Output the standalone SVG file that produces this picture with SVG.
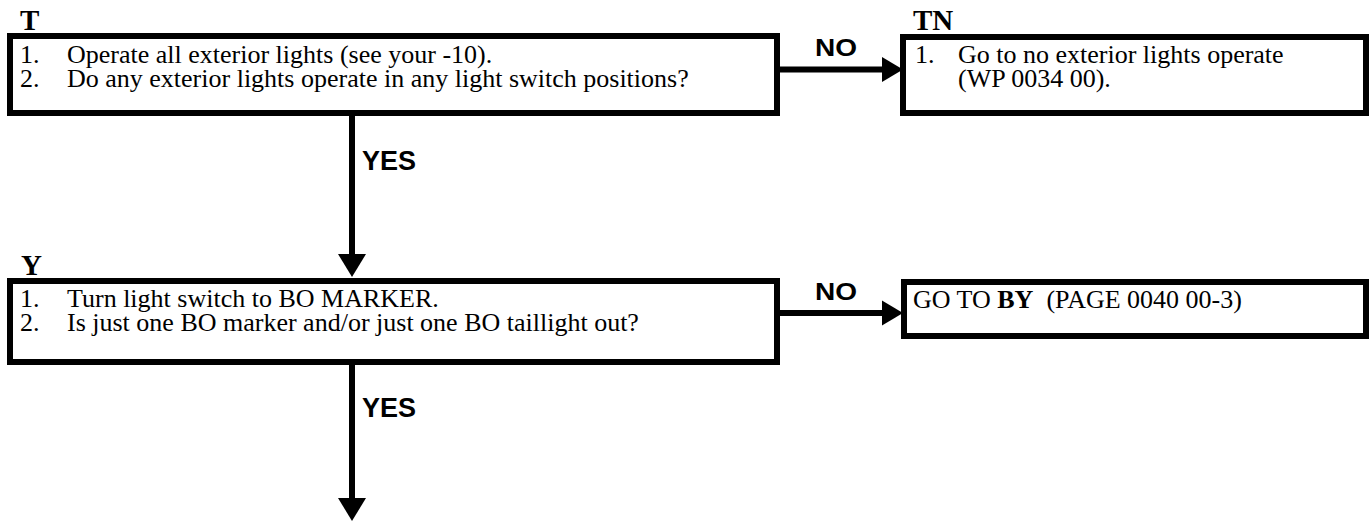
<svg xmlns="http://www.w3.org/2000/svg" width="1372" height="521" viewBox="0 0 1372 521">
<style>
.box{fill:#fff;stroke:#000;stroke-width:6}
.lbl{font-family:"Liberation Serif",serif;font-weight:bold;font-size:29px;fill:#000}
.txt{font-family:"Liberation Serif",serif;font-size:26px;fill:#000}
.yn{font-family:"Liberation Sans",sans-serif;font-weight:bold;fill:#000}
.ln{stroke:#000;stroke-width:6;fill:none}
.hd{fill:#000}
</style>
<rect width="1372" height="521" fill="#fff"/>
<g id="node-T">
<text class="lbl" x="20" y="30">T</text>
<rect class="box" x="10" y="36" width="767" height="77"/>
<text class="txt" x="20" y="63">1.</text>
<text class="txt" x="67" y="63">Operate all exterior lights (see your -10).</text>
<text class="txt" x="20" y="87">2.</text>
<text class="txt" x="67" y="87">Do any exterior lights operate in any light switch positions?</text>
</g>
<g id="node-TN">
<text class="lbl" x="913" y="30">TN</text>
<rect class="box" x="903" y="37" width="463" height="76"/>
<text class="txt" x="915" y="63">1.</text>
<text class="txt" x="958" y="63">Go to no exterior lights operate</text>
<text class="txt" x="958" y="87">(WP 0034 00).</text>
</g>
<g id="node-Y">
<text class="lbl" x="21" y="275">Y</text>
<rect class="box" x="10" y="281" width="767" height="81"/>
<text class="txt" x="20" y="307">1.</text>
<text class="txt" x="67" y="307">Turn light switch to BO MARKER.</text>
<text class="txt" x="20" y="331">2.</text>
<text class="txt" x="67" y="331">Is just one BO marker and/or just one BO taillight out?</text>
</g>
<g id="node-BY">
<rect class="box" x="904" y="282" width="462" height="54"/>
<text class="txt" x="913" y="308" xml:space="preserve">GO TO <tspan font-weight="bold">BY</tspan>  (PAGE 0040 00-3)</text>
</g>
<g id="connectors">
<line class="ln" x1="780" y1="69.5" x2="884" y2="69.5"/>
<polygon class="hd" points="882,57 903,69.5 882,82"/>
<text class="yn" x="815" y="56" font-size="23" textLength="42" lengthAdjust="spacingAndGlyphs">NO</text>
<line class="ln" x1="780" y1="313" x2="884" y2="313"/>
<polygon class="hd" points="882,300.5 903,313 882,325.5"/>
<text class="yn" x="815" y="300" font-size="23" textLength="42" lengthAdjust="spacingAndGlyphs">NO</text>
<line class="ln" x1="352" y1="116" x2="352" y2="256"/>
<polygon class="hd" points="338,254 366,254 352,277"/>
<text class="yn" x="362" y="170" font-size="27">YES</text>
<line class="ln" x1="352" y1="365" x2="352" y2="500"/>
<polygon class="hd" points="338,498 366,498 352,521"/>
<text class="yn" x="362" y="417" font-size="27">YES</text>
</g>
</svg>
